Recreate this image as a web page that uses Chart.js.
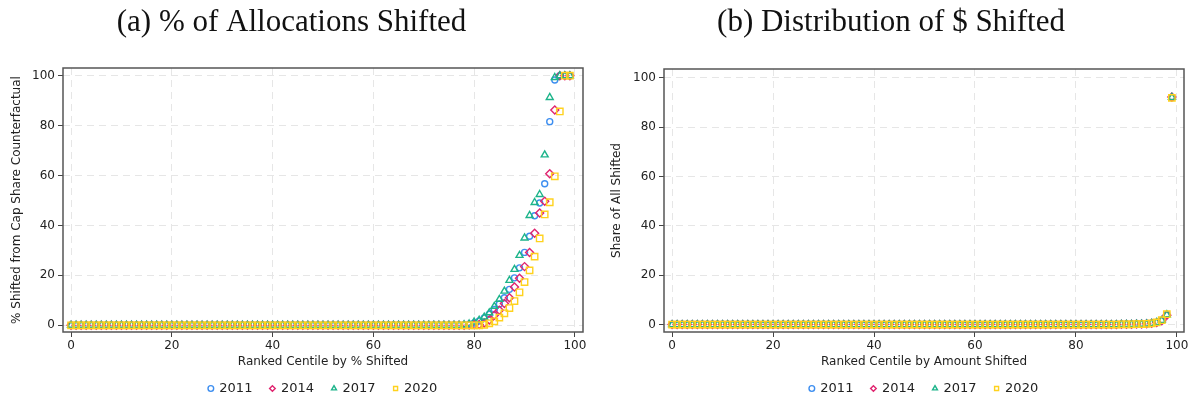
<!DOCTYPE html>
<html>
<head>
<meta charset="utf-8">
<script src="https://cdn.jsdelivr.net/npm/chart.js@4"></script>
<style>
  body { margin: 0; background: #fff; }
  .panel { position: absolute; top: 0; width: 598px; height: 400px; }
</style>
</head>
<body>
<div class="panel" style="left:0"><canvas id="alloc" width="598" height="400"></canvas></div>
<div class="panel" style="left:598px"><canvas id="dollar" width="598" height="400"></canvas></div>
<script>
// centiles 0..99
const centiles = [
  0, 1, 2, 3, 4, 5, 6, 7, 8, 9, 10, 11, 12, 13, 14, 15, 16, 17, 18, 19,
  20, 21, 22, 23, 24, 25, 26, 27, 28, 29, 30, 31, 32, 33, 34, 35, 36, 37, 38, 39,
  40, 41, 42, 43, 44, 45, 46, 47, 48, 49, 50, 51, 52, 53, 54, 55, 56, 57, 58, 59,
  60, 61, 62, 63, 64, 65, 66, 67, 68, 69, 70, 71, 72, 73, 74, 75, 76, 77, 78, 79,
  80, 81, 82, 83, 84, 85, 86, 87, 88, 89, 90, 91, 92, 93, 94, 95, 96, 97, 98, 99
];
const years = ["2011", "2014", "2017", "2020"];
const tickVals = [0, 20, 40, 60, 80, 100];

// (a) % shifted from cap share counterfactual
const pct2011 = [
  0, 0, 0, 0, 0, 0, 0, 0, 0, 0, 0, 0, 0, 0, 0, 0, 0, 0, 0, 0,
  0, 0, 0, 0, 0, 0, 0, 0, 0, 0, 0, 0, 0, 0, 0, 0, 0, 0, 0, 0,
  0, 0, 0, 0, 0, 0, 0, 0, 0, 0, 0, 0, 0, 0, 0, 0, 0, 0, 0, 0,
  0, 0, 0, 0, 0, 0, 0, 0, 0, 0, 0, 0, 0, 0, 0, 0, 0, 0, 0.1, 0.4,
  0.9, 1.7, 2.9, 4.4, 6.3, 8.5, 11, 14.4, 19, 23, 29.2, 35.7, 43.9, 49, 56.7, 81.6, 98.3, 100, 100, 100
];
const pct2014 = [
  0, 0, 0, 0, 0, 0, 0, 0, 0, 0, 0, 0, 0, 0, 0, 0, 0, 0, 0, 0,
  0, 0, 0, 0, 0, 0, 0, 0, 0, 0, 0, 0, 0, 0, 0, 0, 0, 0, 0, 0,
  0, 0, 0, 0, 0, 0, 0, 0, 0, 0, 0, 0, 0, 0, 0, 0, 0, 0, 0, 0,
  0, 0, 0, 0, 0, 0, 0, 0, 0, 0, 0, 0, 0, 0, 0, 0, 0, 0, 0, 0.1,
  0.2, 0.3, 0.9, 2.1, 4, 6, 8.7, 11, 15.3, 18.8, 23.5, 29.2, 36.9, 45, 49.7, 60.7, 86.3, 100, 100, 100
];
const pct2017 = [
  0, 0, 0, 0, 0, 0, 0, 0, 0, 0, 0, 0, 0, 0, 0, 0, 0, 0, 0, 0,
  0, 0, 0, 0, 0, 0, 0, 0, 0, 0, 0, 0, 0, 0, 0, 0, 0, 0, 0, 0,
  0, 0, 0, 0, 0, 0, 0, 0, 0, 0, 0, 0, 0, 0, 0, 0, 0, 0, 0, 0,
  0, 0, 0, 0, 0, 0, 0, 0, 0, 0, 0, 0, 0, 0, 0, 0, 0, 0, 0.2, 0.5,
  1.3, 2, 3.3, 5, 7.6, 10.4, 13.7, 18, 22.4, 28, 35, 44, 49.2, 52.4, 68.3, 91.3, 99.3, 100, 100, 100
];
const pct2020 = [
  0, 0, 0, 0, 0, 0, 0, 0, 0, 0, 0, 0, 0, 0, 0, 0, 0, 0, 0, 0,
  0, 0, 0, 0, 0, 0, 0, 0, 0, 0, 0, 0, 0, 0, 0, 0, 0, 0, 0, 0,
  0, 0, 0, 0, 0, 0, 0, 0, 0, 0, 0, 0, 0, 0, 0, 0, 0, 0, 0, 0,
  0, 0, 0, 0, 0, 0, 0, 0, 0, 0, 0, 0, 0, 0, 0, 0, 0, 0, 0, 0,
  0, 0, 0.2, 0.8, 1.6, 3.1, 4.8, 6.9, 9.7, 13.2, 17.3, 22, 27.5, 34.8, 44.4, 49.3, 59.7, 85.7, 100, 100
];

// (b) share of all $ shifted
const share2011 = [
  0, 0, 0, 0, 0, 0, 0, 0, 0, 0, 0, 0, 0, 0, 0, 0, 0, 0, 0, 0,
  0, 0, 0, 0, 0, 0, 0, 0, 0, 0, 0, 0, 0, 0, 0, 0, 0, 0, 0, 0,
  0, 0, 0, 0, 0, 0, 0, 0, 0, 0, 0, 0, 0, 0, 0, 0, 0, 0, 0, 0,
  0, 0, 0, 0, 0, 0, 0, 0, 0, 0, 0, 0, 0, 0, 0, 0, 0, 0, 0, 0,
  0, 0, 0, 0, 0, 0, 0, 0, 0, 0.1, 0.1, 0.1, 0.2, 0.2, 0.3, 0.5, 0.9, 1.7, 4.1, 91.9
];
const share2014 = [
  0, 0, 0, 0, 0, 0, 0, 0, 0, 0, 0, 0, 0, 0, 0, 0, 0, 0, 0, 0,
  0, 0, 0, 0, 0, 0, 0, 0, 0, 0, 0, 0, 0, 0, 0, 0, 0, 0, 0, 0,
  0, 0, 0, 0, 0, 0, 0, 0, 0, 0, 0, 0, 0, 0, 0, 0, 0, 0, 0, 0,
  0, 0, 0, 0, 0, 0, 0, 0, 0, 0, 0, 0, 0, 0, 0, 0, 0, 0, 0, 0,
  0, 0, 0, 0, 0, 0, 0, 0, 0, 0.1, 0.1, 0.1, 0.2, 0.2, 0.3, 0.5, 0.8, 1.6, 3.8, 92.2
];
const share2017 = [
  0, 0, 0, 0, 0, 0, 0, 0, 0, 0, 0, 0, 0, 0, 0, 0, 0, 0, 0, 0,
  0, 0, 0, 0, 0, 0, 0, 0, 0, 0, 0, 0, 0, 0, 0, 0, 0, 0, 0, 0,
  0, 0, 0, 0, 0, 0, 0, 0, 0, 0, 0, 0, 0, 0, 0, 0, 0, 0, 0, 0,
  0, 0, 0, 0, 0, 0, 0, 0, 0, 0, 0, 0, 0, 0, 0, 0, 0, 0, 0, 0,
  0, 0, 0, 0, 0, 0, 0, 0, 0, 0.1, 0.1, 0.1, 0.2, 0.2, 0.3, 0.5, 0.9, 1.7, 4.0, 92.0
];
const share2020 = [
  0, 0, 0, 0, 0, 0, 0, 0, 0, 0, 0, 0, 0, 0, 0, 0, 0, 0, 0, 0,
  0, 0, 0, 0, 0, 0, 0, 0, 0, 0, 0, 0, 0, 0, 0, 0, 0, 0, 0, 0,
  0, 0, 0, 0, 0, 0, 0, 0, 0, 0, 0, 0, 0, 0, 0, 0, 0, 0, 0, 0,
  0, 0, 0, 0, 0, 0, 0, 0, 0, 0, 0, 0, 0, 0, 0, 0, 0, 0, 0, 0,
  0, 0, 0, 0, 0, 0, 0, 0, 0, 0.1, 0.1, 0.1, 0.2, 0.2, 0.3, 0.5, 0.9, 1.8, 4.2, 91.8
];

const colors = ["#3d8ef0", "#e0246f", "#1db48a", "#ffd21e"];
const shapes = ["circle", "rectRot", "triangle", "rect"];
const radii = [3, 4, 4, 4.5];

const LEGEND_H = 36;

// box round the plot area, like Stata
const framePlugin = {
  id: "frame",
  afterInit(chart) {
    // fixed legend height so the bottom of the plot lands where it should
    const fit = chart.legend.fit;
    chart.legend.fit = function () {
      fit.call(this);
      this.height = LEGEND_H;
    };
  },
  beforeDatasetsDraw(chart) {
    const a = chart.chartArea;
    const ctx = chart.ctx;
    ctx.save();
    ctx.strokeStyle = "#555";
    ctx.lineWidth = 1.5;
    ctx.strokeRect(a.left, a.top, a.right - a.left, a.bottom - a.top);
    ctx.restore();
  },
};

const sans = "DejaVu Sans";

function makeChart(id, cfg) {
  const datasets = cfg.series.map((vals, i) => ({
    label: years[i],
    data: centiles.map((c, j) => ({ x: c, y: vals[j] })),
    pointStyle: shapes[i],
    pointRadius: radii[i],
    borderColor: colors[i],
    backgroundColor: "rgba(0,0,0,0)",
    pointBorderWidth: 1.4,
    order: 3 - i, // later years drawn on top
  }));

  return new Chart(document.getElementById(id), {
    type: "scatter",
    data: { datasets },
    plugins: [framePlugin],
    options: {
      responsive: false,
      animation: false,
      events: [],
      layout: { padding: { left: 0, right: cfg.padRight, top: 0, bottom: 0 } },
      plugins: {
        tooltip: { enabled: false },
        title: {
          display: true,
          text: cfg.title,
          font: { family: "Liberation Serif", size: 31, weight: "normal" },
          color: "#111",
          padding: { top: 4, bottom: cfg.top - 4 - 37.2 },
        },
        legend: {
          position: "bottom",
          fullSize: false,
          reverse: true,
          labels: {
            usePointStyle: true,
            boxWidth: 4,
            boxHeight: 4,
            padding: 18,
            color: "#222",
            font: { family: sans, size: 13 },
          },
        },
      },
      scales: {
        x: {
          type: "linear",
          min: cfg.xmin,
          max: cfg.xmax,
          afterBuildTicks: (s) => { s.ticks = tickVals.map((v) => ({ value: v })); },
          afterFit: (s) => { s.height = 400 - cfg.bottom - LEGEND_H; },
          grid: { color: "#e6e6e6", tickLength: 5, tickColor: "#444", tickWidth: 1 },
          border: { display: false, dash: [7, 5] },
          ticks: { color: "#222", padding: 2, font: { family: sans, size: 12 } },
          title: {
            display: true,
            text: cfg.xTitle,
            color: "#222",
            font: { family: sans, size: 12 },
            padding: { top: 0, bottom: 400 - LEGEND_H - 362 - 7.2 },
          },
        },
        y: {
          type: "linear",
          min: cfg.ymin,
          max: cfg.ymax,
          afterBuildTicks: (s) => { s.ticks = tickVals.map((v) => ({ value: v })); },
          afterFit: (s) => { s.width = cfg.left; },
          grid: { color: "#e6e6e6", tickLength: 5, tickColor: "#444", tickWidth: 1 },
          border: { display: false, dash: [7, 5] },
          ticks: { color: "#222", padding: 3, font: { family: sans, size: 12 } },
          title: {
            display: true,
            text: cfg.yTitle,
            color: "#222",
            font: { family: sans, size: 12 },
            padding: { top: cfg.yTitlePad, bottom: 0 },
          },
        },
      },
    },
  });
}

makeChart("alloc", {
  title: "(a) % of Allocations Shifted",
  xTitle: "Ranked Centile by % Shifted",
  yTitle: "% Shifted from Cap Share Counterfactual",
  series: [pct2011, pct2014, pct2017, pct2020],
  xmin: -1.6, xmax: 101.6, ymin: -2.7, ymax: 103.1,
  left: 63, padRight: 15, top: 68, bottom: 332, yTitlePad: 10,
});

makeChart("dollar", {
  title: "(b) Distribution of $ Shifted",
  xTitle: "Ranked Centile by Amount Shifted",
  yTitle: "Share of All Shifted",
  series: [share2011, share2014, share2017, share2020],
  xmin: -1.6, xmax: 101.4, ymin: -3, ymax: 103.5,
  left: 66, padRight: 12, top: 69, bottom: 332, yTitlePad: 12,
});
</script>
</body>
</html>
